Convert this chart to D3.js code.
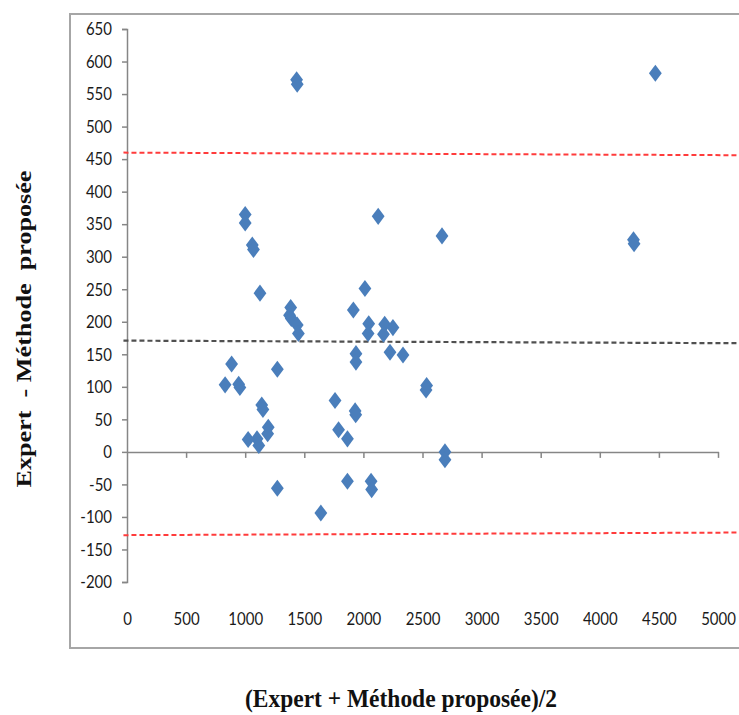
<!DOCTYPE html>
<html>
<head>
<meta charset="utf-8">
<script src="https://cdn.jsdelivr.net/npm/d3@7"></script>
<style>
  body { margin: 0; background: #fff; }
  svg { display: block; }
</style>
</head>
<body>
<svg id="chart" width="739" height="715"></svg>
<script>
// Bland-Altman points: mean of the two methods and their difference
const meanVals = [4470, 1435, 1440, 1000, 1000, 1060, 1070, 1125, 885, 830, 945, 955, 1272, 1140, 1150,
  1385, 1375, 1390, 1440, 1450, 2125, 2013, 1915, 2045, 2040, 2180, 2170, 2250, 2225, 2335,
  1937, 1937, 2535, 2530, 1760, 1930, 1935, 1790, 1865, 1195, 1190, 1100, 1115, 1025,
  2690, 2690, 1272, 1640, 1865, 2065, 2070, 4285, 4290, 2665]
const diffVals = [582, 572, 565, 365, 352, 318, 311, 244, 135, 103, 104, 99, 127, 72, 65,
  222, 210, 205, 195, 182, 362, 251, 218, 197, 182, 196, 181, 191, 153, 149,
  151, 138, 102, 95, 79, 63, 57, 34, 20, 38, 28, 20, 10, 19,
  0, -12, -56, -94, -45, -45, -58, 326, 320, 332]

// reference lines (two end points each, as drawn in the sheet)
const lineX = [-30, 5180]
const meanLine = [171, 167]
const upperLine = [460, 456]
const lowerLine = [-128, -124]

const xTicks = [0, 500, 1000, 1500, 2000, 2500, 3000, 3500, 4000, 4500, 5000]
const yTicks = [650, 600, 550, 500, 450, 400, 350, 300, 250, 200, 150, 100, 50, 0, -50, -100, -150, -200]

const svg = d3.select('#chart')

const x = d3.scaleLinear().domain([0, 5000]).range([127, 718])
const y = d3.scaleLinear().domain([-200, 650]).range([582, 29])

// plain labels, hyphen for negatives, no thousands separator
const plain = d => String(d)

// chart frame
svg.append('rect')
  .attr('x', 70).attr('y', 14)
  .attr('width', 690).attr('height', 634)
  .attr('fill', 'none')
  .attr('stroke', '#a6a6a6')
  .attr('stroke-width', 2)

const tickFont = 'Lato, "Liberation Sans", sans-serif'

// y axis
const gy = svg.append('g')
  .attr('transform', `translate(${x(0)},0)`)
  .call(d3.axisLeft(y).tickValues(yTicks).tickFormat(plain).tickSize(5).tickSizeOuter(5).tickPadding(10))
gy.select('.domain').attr('stroke', '#868686').attr('stroke-width', 1.5)
gy.selectAll('.tick line').attr('stroke', '#868686').attr('stroke-width', 1.5)
gy.selectAll('.tick text')
  .style('font', `15px ${tickFont}`)
  .attr('fill', '#1a1a1a')
  .attr('transform', 'scale(1,1.2)')

// x axis line crosses at zero
const gx = svg.append('g')
  .attr('transform', `translate(0,${y(0)})`)
  .call(d3.axisBottom(x).tickValues(xTicks).tickSize(6).tickSizeOuter(0).tickFormat(''))
gx.select('.domain').attr('stroke', '#868686').attr('stroke-width', 1.5)
gx.selectAll('.tick line').attr('stroke', '#868686').attr('stroke-width', 1.5)
gx.selectAll('.tick').filter(d => d === 0).select('line').remove()

// x tick labels sit at the bottom of the plot
const gxl = svg.append('g')
  .attr('transform', 'translate(0,612)')
  .call(d3.axisBottom(x).tickValues(xTicks).tickFormat(plain).tickSize(0).tickPadding(0))
gxl.select('.domain').remove()
gxl.selectAll('.tick text')
  .style('font', `15px ${tickFont}`)
  .attr('fill', '#1a1a1a')
  .attr('transform', 'scale(1,1.2)')

// reference lines
const line = d3.line().x(d => x(d[0])).y(d => y(d[1]))
const refLines = [
  { vals: upperLine, color: '#ff3b3b', width: 2 },
  { vals: lowerLine, color: '#ff3b3b', width: 2 },
  { vals: meanLine, color: '#505050', width: 2.2 }
]
refLines.forEach(r => {
  svg.append('path')
    .datum(lineX.map((v, i) => [v, r.vals[i]]))
    .attr('d', line)
    .attr('fill', 'none')
    .attr('stroke', r.color)
    .attr('stroke-width', r.width)
    .attr('stroke-dasharray', '5,3')
})

// points
const diamond = d3.symbol().type(d3.symbolDiamond).size(84)
svg.append('g')
  .selectAll('path')
  .data(meanVals.map((m, i) => [m, diffVals[i]]))
  .join('path')
  .attr('d', diamond)
  .attr('transform', d => `translate(${x(d[0])},${y(d[1])}) scale(1.3,1)`)
  .attr('fill', '#4a7ebb')

// axis titles
svg.append('text')
  .attr('transform', 'translate(31,329) rotate(-90)')
  .attr('text-anchor', 'middle')
  .attr('textLength', 317)
  .attr('lengthAdjust', 'spacingAndGlyphs')
  .style('font', 'bold 22px "Liberation Serif", "Times New Roman", serif')
  .style('white-space', 'pre')
  .attr('fill', '#111')
  .text('Expert  - Méthode  proposée')

svg.append('text')
  .attr('x', 401)
  .attr('y', 707)
  .attr('text-anchor', 'middle')
  .attr('textLength', 312)
  .attr('lengthAdjust', 'spacingAndGlyphs')
  .style('font', 'bold 26px "Liberation Serif", "Times New Roman", serif')
  .attr('fill', '#111')
  .text('(Expert + Méthode proposée)/2')
</script>
</body>
</html>
